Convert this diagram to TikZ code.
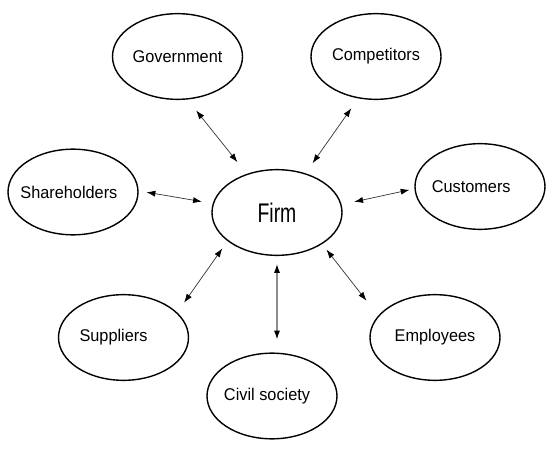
\documentclass[tikz,border=0pt]{standalone}
\usepackage{fontspec}
\setmainfont{Liberation Sans}
\newfontfamily\partyfont[FakeStretch=0.96]{Liberation Sans}
\newfontfamily\firmfont[FakeStretch=0.72]{Liberation Sans}
\usetikzlibrary{arrows.meta,shapes.geometric}

\begin{document}
\begin{tikzpicture}[
  x=0.03cm, y=-0.03cm,
  party/.style = {ellipse, draw=black, line width=1.2pt, inner sep=0pt,
                  minimum width=3.9cm, minimum height=2.57cm,
                  font=\partyfont\fontsize{14.5}{17}\selectfont},
  core/.style  = {party, font=\firmfont\fontsize{23}{26}\selectfont},
  link/.style  = {{Latex[length=7.5pt,width=5.2pt,color=black]}-{Latex[length=7.5pt,width=5.2pt,color=black]},
                  draw=black!80, line width=0.6pt},
]
\useasboundingbox (0,0) rectangle (554,453);

% ---- firm ------------------------------------------------------------------
\node[core] (firm) at (277,212.5) {Firm};

% ---- stakeholders ----------------------------------------------------------
\node[party] (gov)   at (177.5,56.5) {Government};
\node[party] (comp)  at (376,56.5)   {Competitors};
\node[party] (share) at (73,192)     {\hspace*{-7pt}Shareholders};
\node[party] (cust)  at (480,186.5)  {\hspace*{-15pt}Customers};
\node[party] (supp)  at (123.5,337.5){\hspace*{-17pt}Suppliers};
\node[party] (emp)   at (435,337.5)  {Employees};
\node[party] (civil) at (272,396)    {\hspace*{-8.5pt}Civil society};

% ---- relations -------------------------------------------------------------
\draw[link, shorten <=0.42cm, shorten >=0.45cm] (gov.-77)   -- (firm.128);
\draw[link, shorten <=0.36cm, shorten >=0.37cm] (comp.-113) -- (firm.54);
\draw[link, shorten <=0.24cm, shorten >=0.33cm] (share.1)   -- (firm.172);
\draw[link, shorten <=0.39cm, shorten >=0.15cm] (firm.7)    -- (cust.182);
\draw[link, shorten <=0.36cm, shorten >=0.27cm] (supp.25)   -- (firm.210);
\draw[link, shorten <=0.21cm, shorten >=0.57cm] (firm.-35)  -- (emp.159);
\draw[link, draw=black!45, line width=1pt, shorten <=0.24cm, shorten >=0.39cm]
  (firm.south) -- (firm.south |- civil.north);

\end{tikzpicture}
\end{document}
